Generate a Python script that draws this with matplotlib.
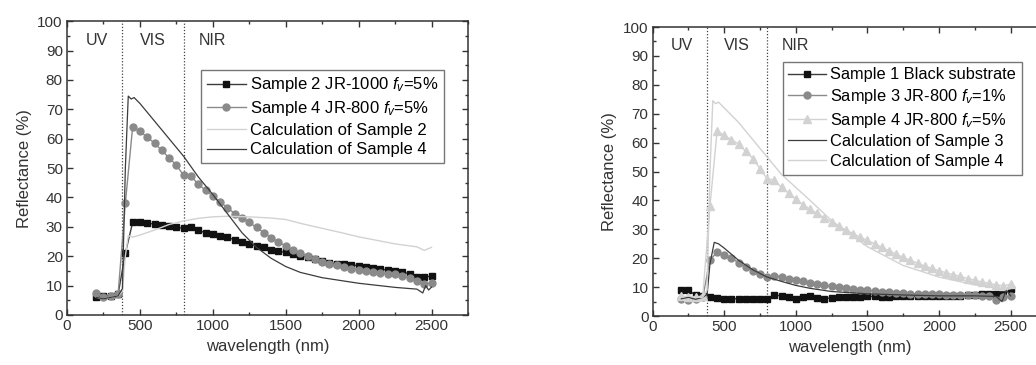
import numpy as np
import matplotlib
matplotlib.use("Agg")
import matplotlib.pyplot as plt
from matplotlib.ticker import MultipleLocator

plt.rcParams.update({
    "font.family": ["Liberation Sans", "DejaVu Sans"],
    "mathtext.fontset": "custom",
    "mathtext.it": "Liberation Sans:italic",
    "mathtext.rm": "Liberation Sans",
})

# measured spectra: markers every 50 nm
WL = np.arange(200, 2501, 50)

# ---- left panel ----
L_S2 = [6.0, 6.5, 6.5, 7.0, 21.0, 31.5, 31.5, 31.2, 31.0, 30.6, 30.2, 29.8, 29.5, 30.0,
        28.8, 28.0, 27.6, 27.0, 26.4, 25.6, 24.8, 24.2, 23.6, 23.0, 22.2, 21.7, 21.3,
        20.8, 20.2, 19.6, 19.0, 18.3, 17.8, 17.4, 17.2, 17.0, 16.8, 16.4, 16.0, 15.6,
        15.3, 15.0, 14.6, 14.0, 13.0, 12.8, 13.3]
L_S4 = [7.5, 6.0, 6.5, 7.0, 38.0, 64.0, 62.5, 60.5, 58.5, 56.0, 53.5, 51.0, 47.5, 47.3,
        44.5, 42.5, 40.5, 38.5, 36.5, 34.5, 33.0, 31.5, 29.8, 28.0, 26.3, 24.8, 23.5,
        22.2, 21.0, 20.0, 19.0, 18.2, 17.5, 16.9, 16.3, 15.8, 15.3, 15.0, 14.7, 14.4,
        14.1, 13.8, 13.3, 12.5, 11.5, 10.5, 11.0]
L_C2_WL = [200, 250, 300, 350, 380, 400, 420, 450, 500, 600, 700, 800, 900, 1000, 1100,
           1250, 1400, 1500, 1600, 1750, 1900, 2000, 2250, 2400, 2450, 2500]
L_C2 = [6, 5.5, 6, 6.5, 8, 20, 27, 26.5, 27.2, 28.9, 30.8, 32.0, 32.9, 33.4, 33.6,
        33.4, 33.0, 32.5, 31.2, 29.5, 27.8, 26.6, 24.2, 23.2, 22.0, 23.0]
L_C4_WL = [200, 250, 300, 350, 380, 400, 420, 440, 460, 500, 600, 700, 800, 900, 1000,
           1100, 1200, 1300, 1400, 1500, 1600, 1750, 2000, 2250, 2400, 2440, 2460, 2480, 2500]
L_C4 = [6, 5.5, 6, 6.5, 9, 50, 74.5, 73.5, 74, 72, 66, 60, 54, 47, 41,
        34.5, 28, 23, 19.3, 16.5, 14.5, 12.7, 10.8, 9.4, 8.8, 7.5, 10, 8.5, 9.5]

# ---- right panel ----
R_S1 = [9.0, 9.0, 7.2, 7.0, 6.5, 6.3, 6.0, 6.0, 6.0, 6.0, 6.0, 6.0, 6.0, 7.3, 7.0, 6.7,
        6.0, 6.5, 6.8, 6.3, 6.0, 6.3, 6.5, 6.5, 6.5, 6.5, 6.8, 6.8, 6.5, 6.5, 6.8, 6.8,
        6.8, 6.8, 7.0, 7.0, 7.0, 7.0, 7.0, 7.0, 7.2, 7.2, 7.8, 7.5, 7.5, 8.0, 9.5]
R_S3 = [6.0, 5.5, 6.0, 6.5, 19.5, 22.0, 21.2, 20.0, 18.5, 17.0, 15.5, 14.5, 13.5, 14.0,
        13.5, 13.0, 12.5, 12.0, 11.5, 11.0, 10.6, 10.3, 10.0, 9.7, 9.4, 9.1, 8.9, 8.6,
        8.4, 8.2, 8.0, 7.9, 7.8, 7.7, 7.6, 7.5, 7.5, 7.4, 7.4, 7.3, 7.3, 7.2, 7.0, 6.8,
        5.5, 6.5, 6.8]
R_S4 = [7.0, 6.5, 6.5, 7.0, 38.0, 64.0, 62.5, 61.0, 59.5, 57.0, 54.5, 51.0, 47.5, 47.0,
        44.5, 42.5, 40.5, 38.5, 37.0, 35.5, 34.0, 32.5, 31.0, 29.8, 28.5, 27.3, 26.2,
        25.0, 23.8, 22.6, 21.5, 20.3, 19.3, 18.3, 17.3, 16.5, 15.7, 15.0, 14.3, 13.7,
        13.0, 12.4, 11.8, 11.3, 10.8, 10.5, 11.0]
R_C3_WL = [200, 250, 300, 350, 380, 400, 430, 460, 500, 600, 700, 800, 900, 1000, 1100,
           1250, 1500, 1750, 2000, 2250, 2400, 2440, 2470, 2500]
R_C3 = [6, 6.5, 5.8, 6.5, 7.5, 18, 25.5, 25, 23.5, 19.3, 16, 13.5, 12, 10.6, 9.6,
        8.5, 7.7, 7.3, 7.0, 7.0, 6.8, 5, 9, 7]
R_C4_WL = [200, 250, 300, 350, 380, 400, 420, 440, 460, 500, 600, 700, 800, 900, 1000,
           1100, 1250, 1500, 1750, 2000, 2250, 2400, 2450, 2500]
R_C4 = [6.5, 7, 6.5, 6.5, 9, 50, 74.5, 73.5, 74, 72, 67, 61, 55, 49, 44.5,
        40, 33, 24, 17.5, 13.5, 10.8, 10, 9, 9.5]

FV = r"$f_v$"
BLACK, DARK, MID, LIGHT = "#111111", "#3c3c3c", "#8a8a8a", "#d2d2d2"
TXT = "#333333"


def style_axes(ax):
    ax.set_xlim(0, 2750)
    ax.set_ylim(0, 100)
    ax.xaxis.set_major_locator(MultipleLocator(500))
    ax.xaxis.set_minor_locator(MultipleLocator(250))
    ax.yaxis.set_major_locator(MultipleLocator(10))
    ax.yaxis.set_minor_locator(MultipleLocator(5))
    ax.tick_params(which="both", direction="in", top=True, right=True, labelsize=11,
                   colors=TXT, pad=3)
    ax.tick_params(which="major", length=4.5, width=1)
    ax.tick_params(which="minor", length=2.5, width=1)
    for s in ax.spines.values():
        s.set_linewidth(1.1)
        s.set_color(TXT)
    ax.set_xlabel("wavelength (nm)", fontsize=12, color=TXT, labelpad=4)
    ax.set_ylabel("Reflectance (%)", fontsize=12, color=TXT, labelpad=4)
    for xv in (380, 800):
        ax.axvline(xv, color="#444444", ls=(0, (1, 1.5)), lw=0.9)
    for xv, lab in ((205, "UV"), (590, "VIS"), (1000, "NIR")):
        ax.text(xv, 93.5, lab, ha="center", va="center", fontsize=11.5, color=TXT)


def add_legend(ax, anchor, size):
    ax.legend(loc="upper left", bbox_to_anchor=anchor, fontsize=size, frameon=True,
              fancybox=False, edgecolor="#555555", handlelength=2.3, handletextpad=0.25,
              labelspacing=0.28, borderpad=0.35, borderaxespad=0)


fig = plt.figure(figsize=(10.36, 3.65), dpi=100)

axL = fig.add_axes([0.0647, 0.137, 0.387, 0.805])
style_axes(axL)
axL.plot(WL, L_S2, color=DARK, marker="s", ms=4.5, mfc=BLACK, mec=BLACK, lw=1,
         label="Sample 2 JR-1000 " + FV + "=5%")
axL.plot(WL, L_S4, color=MID, marker="o", ms=5, mfc=MID, mec=MID, lw=1,
         label="Sample 4 JR-800 " + FV + "=5%")
axL.plot(L_C2_WL, L_C2, color=LIGHT, lw=1, label="Calculation of Sample 2")
axL.plot(L_C4_WL, L_C4, color=DARK, lw=0.9, label="Calculation of Sample 4")
add_legend(axL, (0.335, 0.835), 12)

axR = fig.add_axes([0.630, 0.134, 0.380, 0.792])
style_axes(axR)
axR.plot(WL, R_S1, color=DARK, marker="s", ms=4.5, mfc=BLACK, mec=BLACK, lw=1,
         label="Sample 1 Black substrate")
axR.plot(WL, R_S3, color=MID, marker="o", ms=5, mfc=MID, mec=MID, lw=1,
         label="Sample 3 JR-800 " + FV + "=1%")
axR.plot(WL, R_S4, color=LIGHT, marker="^", ms=5.5, mfc=LIGHT, mec=LIGHT, lw=1,
         label="Sample 4 JR-800 " + FV + "=5%")
axR.plot(R_C3_WL, R_C3, color=DARK, lw=0.9, label="Calculation of Sample 3")
axR.plot(R_C4_WL, R_C4, color=LIGHT, lw=1, label="Calculation of Sample 4")
add_legend(axR, (0.33, 0.88), 11.8)

fig.savefig("out.png", dpi=100)
